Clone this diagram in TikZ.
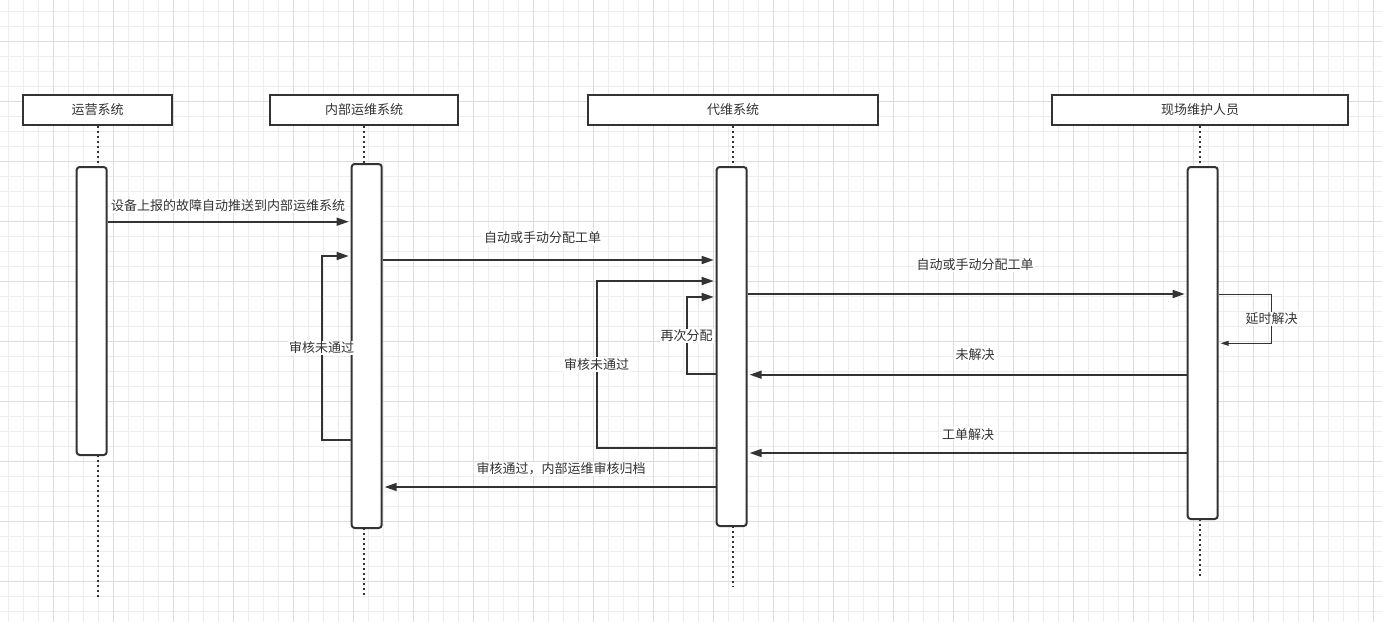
\documentclass[tikz,border=0pt]{standalone}
\usepackage{fontspec}
\usepackage{tikz}
\usetikzlibrary{arrows.meta}
\newfontfamily\cjk{Noto Sans CJK SC}
\definecolor{ink}{HTML}{333333}
\definecolor{gridminor}{HTML}{EDEDED}
\definecolor{gridmajor}{HTML}{DDDDDD}
\tikzset{
    head/.style={draw=ink, line width=2pt, fill=white, minimum height=30pt, inner sep=0pt,
                 text=ink, font=\cjk\fontsize{13}{15}\selectfont},
    act/.style={draw=ink, line width=2pt, fill=white, rounded corners=3pt, minimum width=30pt, inner sep=0pt},
    life/.style={draw=ink, line width=2pt, dash pattern=on 2pt off 3pt},
    msg/.style={-{Triangle[length=12pt, width=8pt]}, draw=ink, line width=1.6pt, shorten >=2pt},
    thinmsg/.style={-{Triangle[length=8pt, width=5pt]}, draw=ink, line width=1pt, shorten >=2pt},
    lbl/.style={fill=white, text=ink, inner sep=1pt, font=\cjk\fontsize{13}{15}\selectfont}
}

\begin{document}
\begin{tikzpicture}[x=1pt, y=-1pt]
    \useasboundingbox (0,0) rectangle (1382,622);
    \clip (0,0) rectangle (1382,622);
    \fill[white] (0,0) rectangle (1382,622);
    % background grid
    \foreach \gx in {0,...,91} \draw[gridminor, line width=0.8pt] ({8.3+15*\gx},0) -- ++(0,622);
    \foreach \gy in {0,...,40} \draw[gridminor, line width=0.8pt] (0,{11.7+15*\gy}) -- ++(1382,0);
    \foreach \gx in {0,...,22} \draw[gridmajor, line width=0.8pt] ({53.3+60*\gx},0) -- ++(0,622);
    \foreach \gy in {0,...,9} \draw[gridmajor, line width=0.8pt] (0,{41.7+60*\gy}) -- ++(1382,0);

    % participants
    \node[head, minimum width=149pt] (hOps) at (97.5,110) {运营系统};
    \node[head, minimum width=188pt] (hInt) at (364,110) {内部运维系统};
    \node[head, minimum width=290pt] (hAgt) at (733,110) {代维系统};
    \node[head, minimum width=296pt] (hSite) at (1200,110) {现场维护人员};

    % lifelines
    \coordinate (endOps) at (97.5,597);
    \coordinate (endInt) at (364,597);
    \coordinate (endAgt) at (733,587);
    \coordinate (endSite) at (1200,578);
    \draw[life] (hOps.south) -- (97.5,167);
    \draw[life] (hInt.south) -- (364,164);
    \draw[life] (hAgt.south) -- (733,167);
    \draw[life] (hSite.south) -- (1200,167);
    \draw[life] (97.5,455) -- (endOps);
    \draw[life] (364,528) -- (endInt);
    \draw[life] (733,526) -- (endAgt);
    \draw[life] (1200,519) -- (endSite);

    % activations
    \node[act, minimum height=288pt] (actOps) at (91.7,311) {};
    \node[act, minimum height=364pt] (actInt) at (366.7,346) {};
    \node[act, minimum height=359pt] (actAgt) at (731.7,346.5) {};
    \node[act, minimum height=352pt] (actSite) at (1202.7,343) {};

    % messages
    \draw[msg] (actOps.east |- 0,221.7) -- (actInt.west |- 0,221.7);
    \node[lbl] (mPush) at (228,205.7) {设备上报的故障自动推送到内部运维系统};
    \draw[msg] (actInt.east |- 0,260) -- (actAgt.west |- 0,260);
    \node[lbl] (mAssign) at (542.5,238) {自动或手动分配工单};
    \draw[msg] (actInt.west |- 0,440) -- (321.7,440) |- node[lbl, pos=0.25] {审核未通过} (actInt.west |- 0,256);
    \draw[msg] (actAgt.west |- 0,448) -- (596.7,448) |- node[lbl, pos=0.25] {审核未通过} (actAgt.west |- 0,281);
    \draw[msg] (actAgt.west |- 0,374) -- (686.7,374) |- node[lbl, pos=0.25] {再次分配} (actAgt.west |- 0,297);
    \draw[msg] (actAgt.east |- 0,294) -- (actSite.west |- 0,294);
    \node[lbl] (mAssign2) at (975,265) {自动或手动分配工单};
    \draw[thinmsg] (actSite.east |- 0,294) -- (1271.7,294) |- node[lbl, pos=0.25] {延时解决} (actSite.east |- 0,343.3);
    \draw[msg] (actSite.west |- 0,374.7) -- (actAgt.east |- 0,374.7);
    \node[lbl] (mOpen) at (975,354.3) {未解决};
    \draw[msg] (actSite.west |- 0,453) -- (actAgt.east |- 0,453);
    \node[lbl] (mDone) at (968,434.3) {工单解决};
    \draw[msg] (actAgt.west |- 0,487) -- (actInt.east |- 0,487);
    \node[lbl] (mArchive) at (561,469) {审核通过，内部运维审核归档};
\end{tikzpicture}
\end{document}
